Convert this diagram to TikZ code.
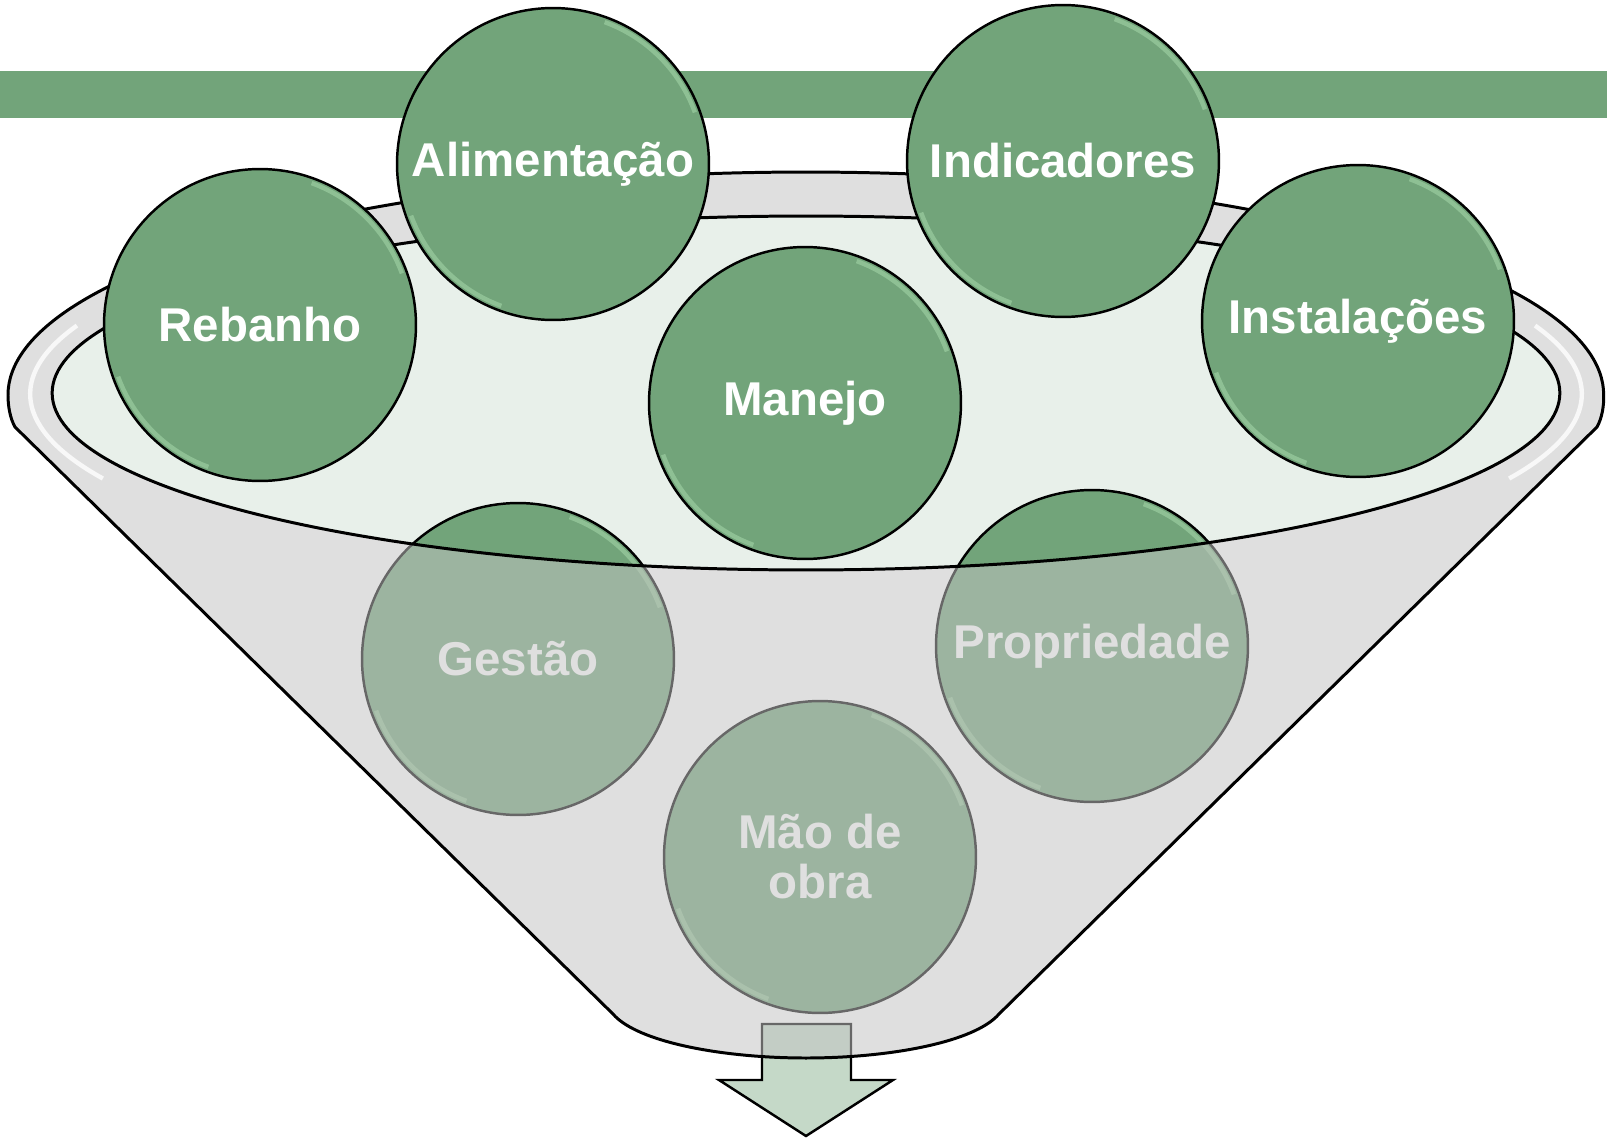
\documentclass[tikz,border=0pt]{standalone}
\usepackage{fontspec}
\newfontfamily\lblfont{Liberation Sans}
\definecolor{herdgreen}{RGB}{114,164,122}
\definecolor{glossgreen}{RGB}{165,215,170}
\definecolor{bowlgreen}{RGB}{232,240,234}
\definecolor{funnelgray}{RGB}{195,195,195}
\definecolor{arrowgreen}{RGB}{197,217,200}
\tikzset{
  topic/.style={circle, draw=black, line width=1.4pt, fill=herdgreen,
    minimum size=6.24cm, inner sep=0pt, align=center, text=white,
    font=\lblfont\bfseries\fontsize{27}{28.5}\selectfont,
    path picture={
      \draw[glossgreen, line width=2.5pt, opacity=0.55]
        ([shift={(20:3.02cm)}]path picture bounding box.center) arc[start angle=20, end angle=70, radius=3.02cm];
      \draw[glossgreen, line width=2.5pt, opacity=0.55]
        ([shift={(200:3.02cm)}]path picture bounding box.center) arc[start angle=200, end angle=250, radius=3.02cm];
    }},
  rimline/.style={draw=black, line width=1.7pt}
}
% outline of the funnel
\newcommand\funnelpath{(15,-427) .. controls (10,-418) and (8,-406) .. (8,-395)
  arc[start angle=180, end angle=0, x radius=15.96cm, y radius=4.46cm]
  .. controls (1604,-406) and (1602,-418) .. (1597,-427)
  -- (999,-1014) .. controls (975,-1042) and (890,-1058) .. (806,-1058)
  .. controls (722,-1058) and (637,-1042) .. (613,-1014) -- cycle}

\begin{document}
\begin{tikzpicture}[x=0.02cm, y=0.02cm]
\useasboundingbox (0,0) rectangle (1607,-1139);
\fill[herdgreen] (0,-71) rectangle (1607,-118);

% bowl surface
\fill[bowlgreen] (806,-393) ellipse [x radius=15.08cm, y radius=3.54cm];

% output arrow
\draw[fill=arrowgreen, line width=1.4pt, line join=miter]
  (762,-1024) -- (851,-1024) -- (851,-1080) -- (893,-1080) -- (806,-1136)
  -- (719,-1080) -- (762,-1080) -- cycle;

% circles sunk in the funnel
\node[topic] (gestao) at (518,-659) {Gestão};
\node[topic] (propriedade) at (1092,-646) {Propriedade};
\node[topic] (maodeobra) at (820,-857) {Mão de\\obra};

% funnel body, see-through
\fill[funnelgray, fill opacity=0.53, even odd rule] \funnelpath
  (806,-393) ellipse [x radius=15.08cm, y radius=3.54cm];
\draw[white, line width=2.5pt, opacity=0.8]
  (806,-394) ++(160:15.52cm and 4.0cm) arc[start angle=160, end angle=205, x radius=15.52cm, y radius=4.0cm];
\draw[white, line width=2.5pt, opacity=0.8]
  (806,-394) ++(-25:15.52cm and 4.0cm) arc[start angle=-25, end angle=20, x radius=15.52cm, y radius=4.0cm];
\draw[rimline] \funnelpath;
\draw[rimline] (806,-393) ellipse [x radius=15.08cm, y radius=3.54cm];

% circles on top
\node[topic] (rebanho) at (260,-325) {Rebanho};
\node[topic] (alimentacao) at (553,-164) {Alimentação};
\node[topic] (indicadores) at (1063,-161) {Indicadores};
\node[topic] (instalacoes) at (1358,-321) {Instalações};
\node[topic] (manejo) at (805,-403) {Manejo};
\end{tikzpicture}
\end{document}
